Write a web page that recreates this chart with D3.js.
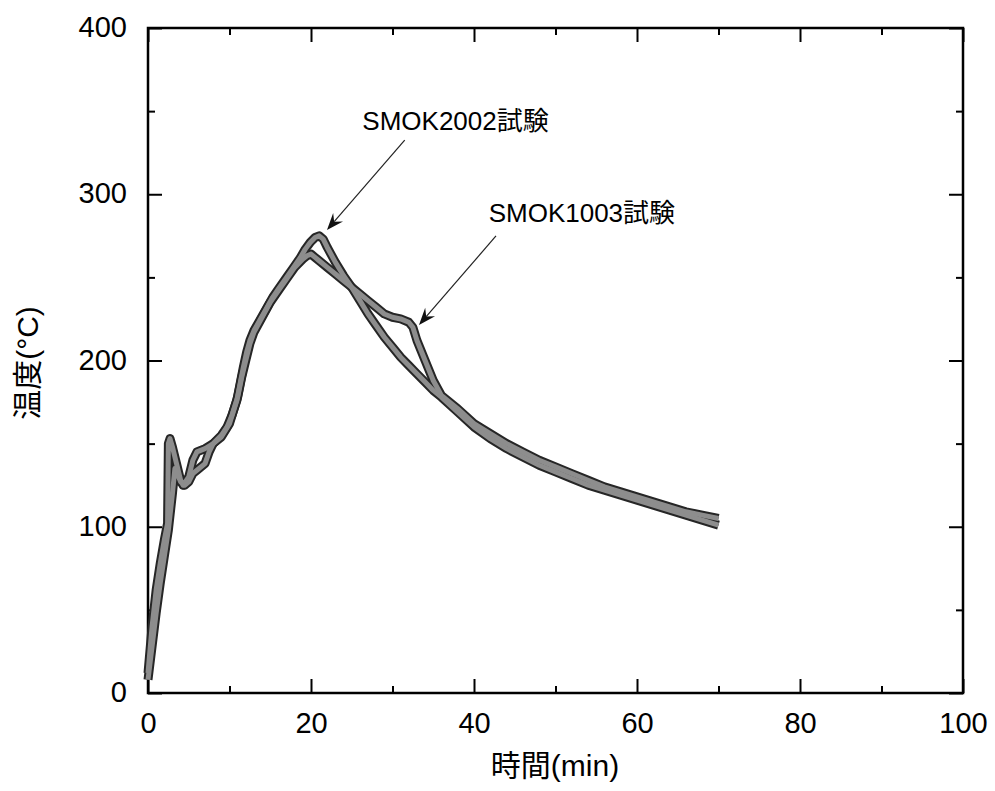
<!DOCTYPE html>
<html><head><meta charset="utf-8">
<script src="https://cdn.jsdelivr.net/npm/d3@7"></script>
<style>body{margin:0;background:#fff}</style>
</head><body>
<svg id="chart" width="995" height="791"></svg>
<script>
// SMOK2002 test (higher peak)
const timeA = [0,0.5,1,1.5,2,2.4,2.5,2.7,3,3.5,4,4.3,5,5.5,6,7,8,9,9.7,10.3,10.9,11.3,11.7,12.1,12.5,13,13.7,14.5,15.3,16,17,18,18.7,19.3,19.9,20.5,21,21.5,22,23,24,25,26,27,28,29,30,31,32,33,34,35,36,38,40,42,44,46,48,50,52,54,56,58,60,62,64,66,68,70];
const tempA = [12,40,62,78,92,102,150,153,148,138,128,125,130,140,145,147,150,155,160,167,176,186,196,205,212,218,224,231,238,243,250,257,262,267,271,274,275,273,268,259,251,244,236,228,221,214,208,202,197,192,187,182,178,169,160,153,147,142,137,133,129,125,122,119,116,113,110,107,104,101];
// SMOK1003 test (shoulder near 32 min)
const timeB = [0,0.5,1,1.5,2,2.5,3,3.3,3.6,4,4.5,5,5.5,6,7,7.5,8,9,10,11,11.5,12,12.5,13,14,15,16,17,18,19,19.5,20,20.5,21,22,23,24,25,26,27,28,29,30,31,32,32.5,33,34,35,36,38,40,42,44,46,48,50,52,54,56,58,60,62,64,66,68,70];
const tempB = [8,28,48,66,82,98,120,135,132,127,125,127,132,134,138,145,150,154,162,178,190,200,210,217,226,235,242,249,256,261,263,264,262,260,256,252,248,244,240,236,232,228,226,225,223,220,212,200,188,179,171,162,156,150,145,140,136,132,128,124,121,118,115,112,109,107,105];

const xMajor = [0,20,40,60,80,100];
const xMinor = [10,30,50,70,90];
const yMajor = [0,100,200,300,400];
const yMinor = [50,150,250,350];

const xTitle = "時間(min)";
const yTitle = "温度(°C)";

// annotation: label anchor and arrow start/end in data units
const annotations = [
  {label:"SMOK2002試験", lx:26.3, ly:338.6, sx:31.5, sy:332.6, tx:21.96, ty:278.5},
  {label:"SMOK1003試験", lx:41.8, ly:283.3, sx:42.7, sy:274.9, tx:33.25, ty:221.4}
];

const series = [
  {name:"SMOK2002", t:timeA, v:tempA},
  {name:"SMOK1003", t:timeB, v:tempB}
];

const FONT = "'Liberation Sans','Noto Sans CJK JP',Arial,sans-serif";
const svg = d3.select("#chart");
const L=148, R=963, T=28, B=693;
const x = d3.scaleLinear().domain([0,100]).range([L,R]);
const y = d3.scaleLinear().domain([0,400]).range([B,T]);

function styleAxis(g){ g.select(".domain").remove(); g.selectAll("line").attr("stroke","#000").attr("stroke-width",2); }

// major ticks with labels
svg.append("g").attr("transform",`translate(0,${B})`)
  .call(d3.axisBottom(x).tickValues(xMajor).tickSizeInner(-14).tickSizeOuter(0).tickPadding(19))
  .call(styleAxis)
  .selectAll("text").attr("font-family",FONT).attr("font-size",29).attr("fill","#000");
svg.append("g").attr("transform",`translate(${L},0)`)
  .call(d3.axisLeft(y).tickValues(yMajor).tickSizeInner(-14).tickSizeOuter(0).tickPadding(21))
  .call(styleAxis)
  .selectAll("text").attr("font-family",FONT).attr("font-size",29).attr("fill","#000").attr("dy","0.3em");
svg.append("g").attr("transform",`translate(0,${T})`)
  .call(d3.axisTop(x).tickValues(xMajor).tickSizeInner(-14).tickSizeOuter(0).tickFormat(""))
  .call(styleAxis);
svg.append("g").attr("transform",`translate(${R},0)`)
  .call(d3.axisRight(y).tickValues(yMajor).tickSizeInner(-14).tickSizeOuter(0).tickFormat(""))
  .call(styleAxis);
// minor ticks
svg.append("g").attr("transform",`translate(0,${B})`)
  .call(d3.axisBottom(x).tickValues(xMinor).tickSizeInner(-7).tickSizeOuter(0).tickFormat("")).call(styleAxis);
svg.append("g").attr("transform",`translate(0,${T})`)
  .call(d3.axisTop(x).tickValues(xMinor).tickSizeInner(-7).tickSizeOuter(0).tickFormat("")).call(styleAxis);
svg.append("g").attr("transform",`translate(${L},0)`)
  .call(d3.axisLeft(y).tickValues(yMinor).tickSizeInner(-7).tickSizeOuter(0).tickFormat("")).call(styleAxis);
svg.append("g").attr("transform",`translate(${R},0)`)
  .call(d3.axisRight(y).tickValues(yMinor).tickSizeInner(-7).tickSizeOuter(0).tickFormat("")).call(styleAxis);

// frame
svg.append("rect").attr("x",L).attr("y",T).attr("width",R-L).attr("height",B-T)
  .attr("fill","none").attr("stroke","#000").attr("stroke-width",2.5);

// curves
const line = d3.line().x(d=>x(d[0])).y(d=>y(d[1]));
const pts = series.map(s=>s.t.map((t,i)=>[t,s.v[i]]));
pts.forEach(p=>{
  svg.append("path").attr("d",line(p)).attr("fill","none").attr("stroke","#262626")
    .attr("stroke-width",9).attr("stroke-linejoin","round").attr("stroke-linecap","butt");
});
pts.forEach(p=>{
  svg.append("path").attr("d",line(p)).attr("fill","none").attr("stroke","#8d8d8d")
    .attr("stroke-width",5).attr("stroke-linejoin","round").attr("stroke-linecap","butt");
});

// annotations
annotations.forEach(a=>{
  const x1=x(a.sx), y1=y(a.sy), x2=x(a.tx), y2=y(a.ty);
  const ang=Math.atan2(y2-y1,x2-x1);
  const len=17, hw=6.5, notch=11;
  const bx=x2-len*Math.cos(ang), by=y2-len*Math.sin(ang);
  const nx=x2-notch*Math.cos(ang), ny=y2-notch*Math.sin(ang);
  const px=-Math.sin(ang), py=Math.cos(ang);
  svg.append("line").attr("x1",x1).attr("y1",y1).attr("x2",nx).attr("y2",ny)
    .attr("stroke","#222").attr("stroke-width",1.2);
  svg.append("path").attr("d",`M${x2},${y2}L${bx+px*hw},${by+py*hw}L${nx},${ny}L${bx-px*hw},${by-py*hw}Z`)
    .attr("fill","#111");
  svg.append("text").attr("x",x(a.lx)).attr("y",y(a.ly)).text(a.label)
    .attr("font-family",FONT).attr("font-size",26).attr("fill","#000");
});

// axis titles
svg.append("text").attr("x",555).attr("y",776).attr("text-anchor","middle")
  .attr("font-family",FONT).attr("font-size",30).attr("fill","#000").text(xTitle);
svg.append("text").attr("transform","translate(38,363) rotate(-90)").attr("text-anchor","middle")
  .attr("font-family",FONT).attr("font-size",30).attr("fill","#000").text(yTitle);
</script>
</body></html>
